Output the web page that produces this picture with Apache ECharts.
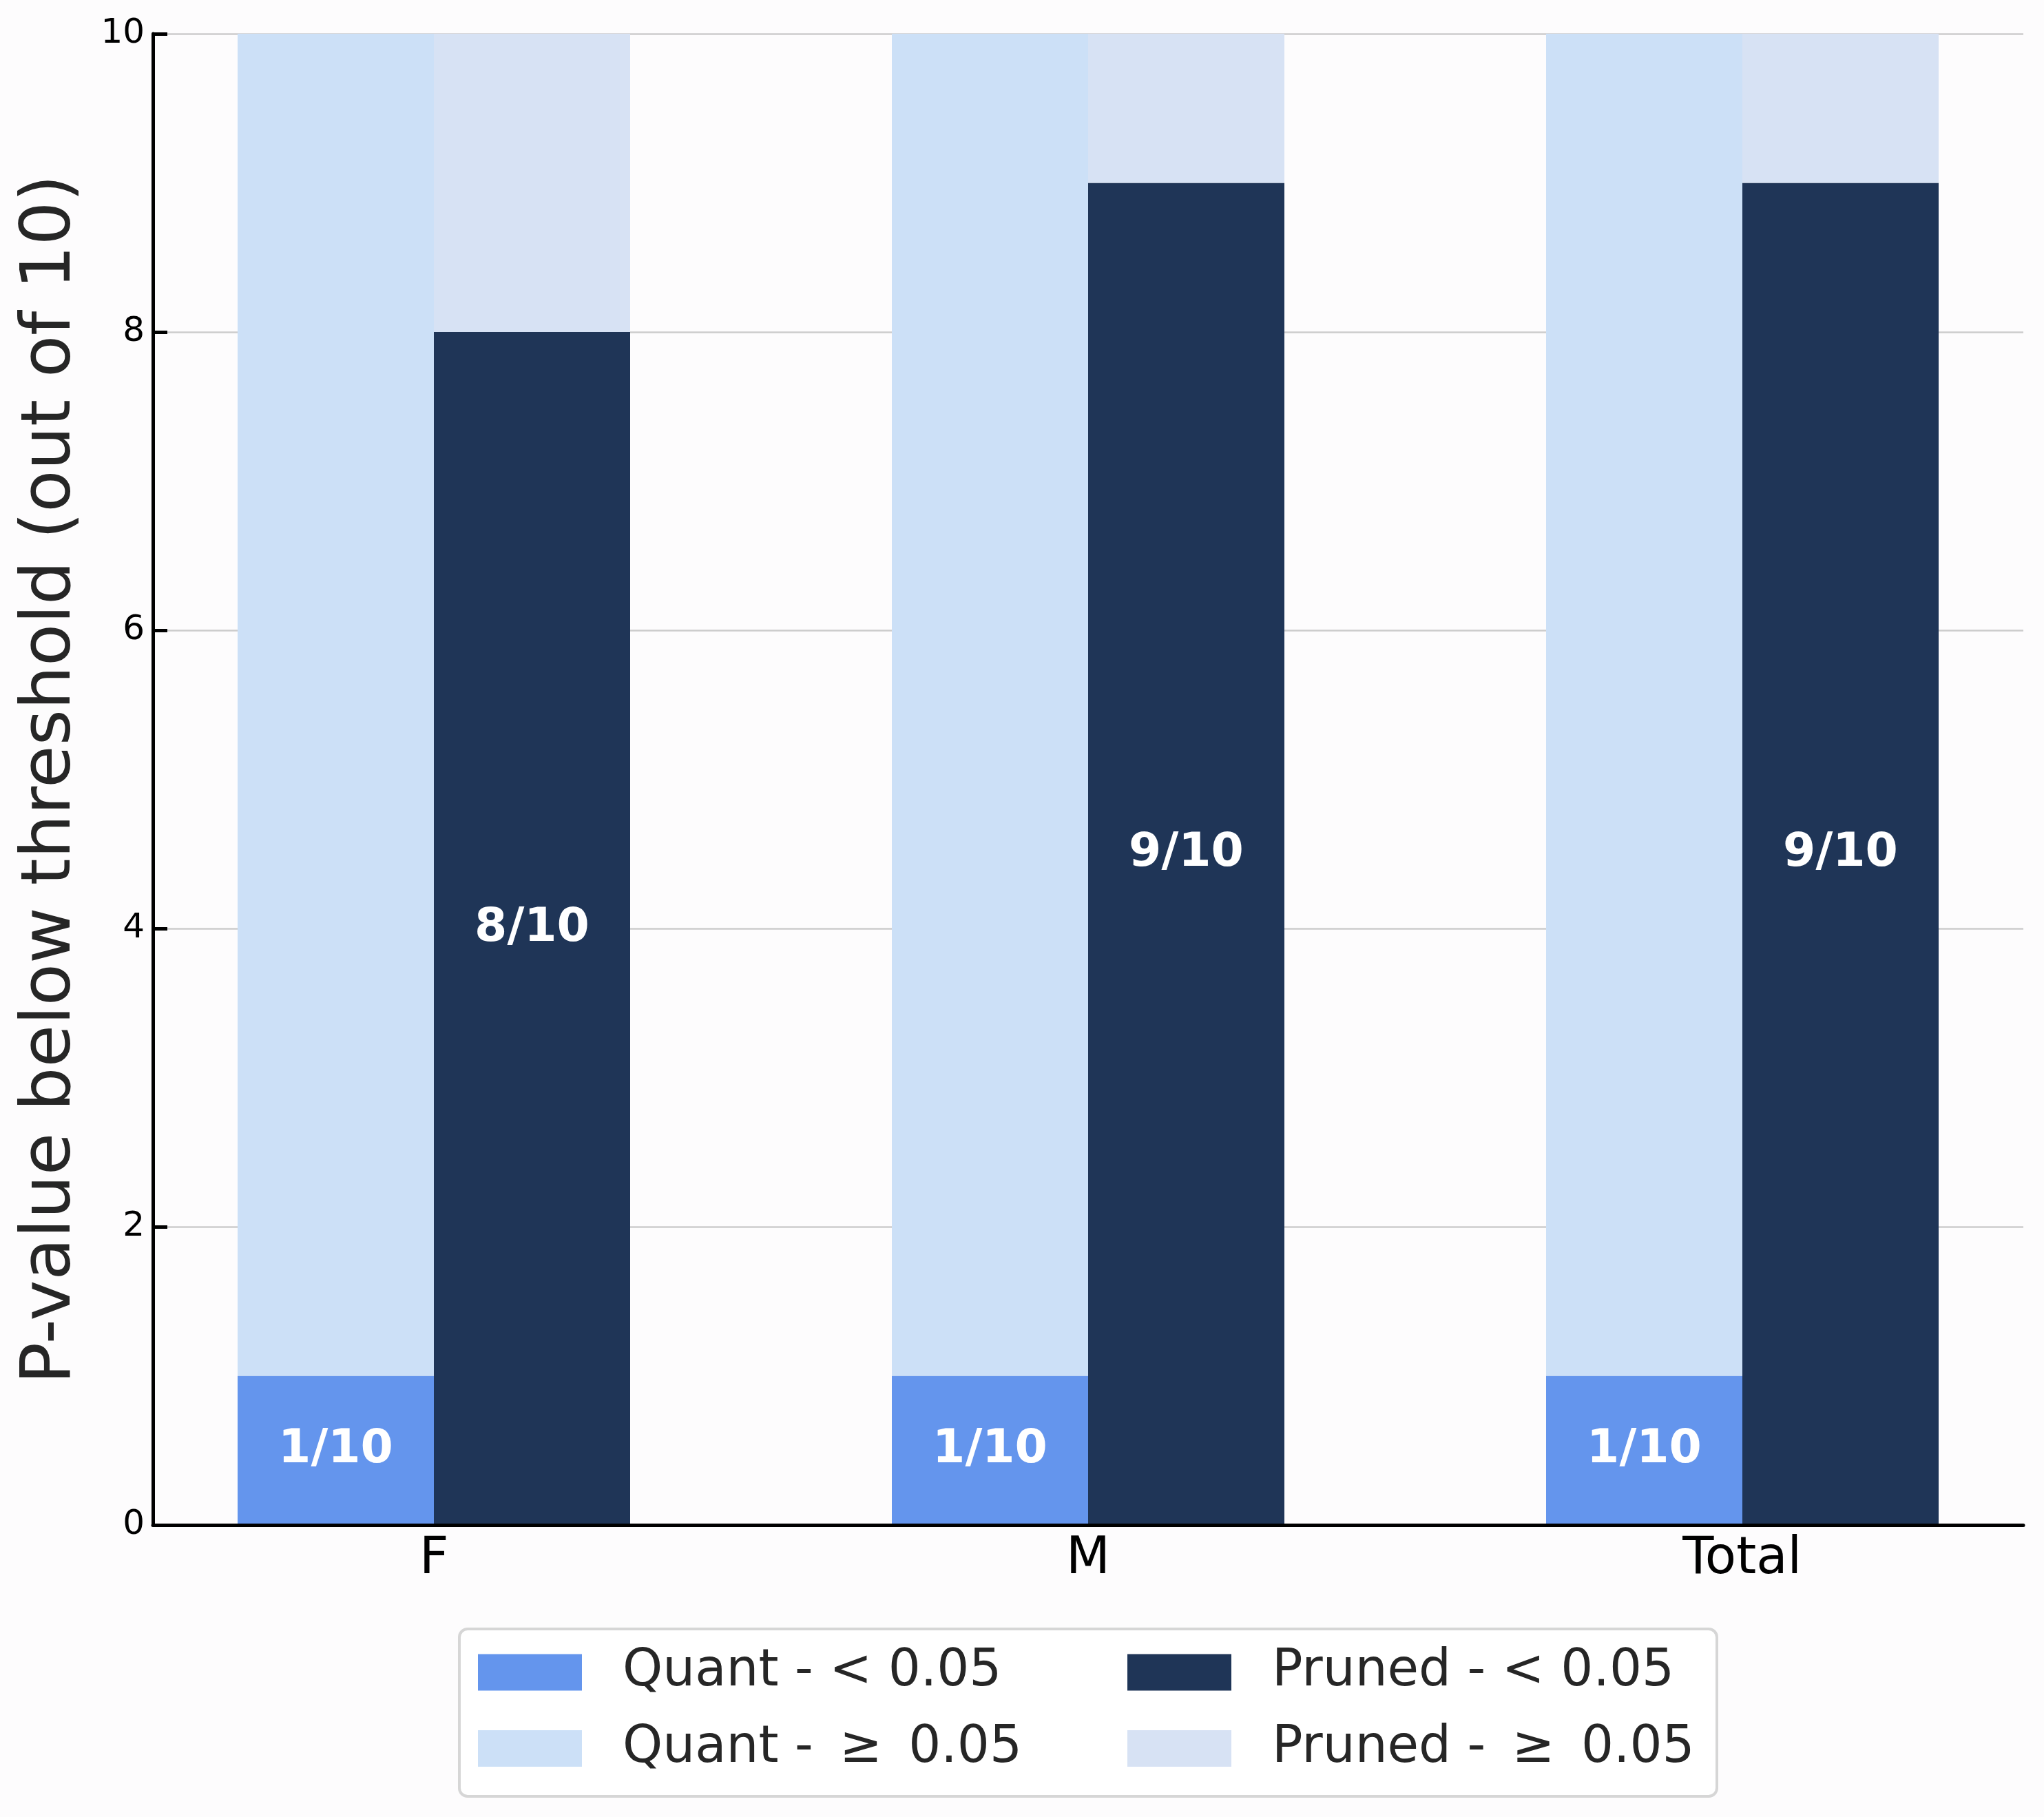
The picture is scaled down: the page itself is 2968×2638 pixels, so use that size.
<!DOCTYPE html>
<html>
<head>
<meta charset="utf-8">
<script src="https://cdn.jsdelivr.net/npm/echarts@6/dist/echarts.min.js"></script>
<style>
  html, body { margin: 0; padding: 0; background: #fdfcfd; }
  #chart { width: 2968px; height: 2638px; }
</style>
</head>
<body>
<div id="chart"></div>
<script>
const categories = ['F', 'M', 'Total'];
const quantBelow = [1, 1, 1];
const quantAbove = [9, 9, 9];
const prunedBelow = [8, 9, 9];
const prunedAbove = [2, 1, 1];
const runsTotal = 10;
const yTickValues = [0, 2, 4, 6, 8, 10];

const seriesNames = {
  qb: 'Quant - < 0.05',
  qa: 'Quant - \u2009\u2265\u2009 0.05',
  pb: 'Pruned - < 0.05',
  pa: 'Pruned - \u2009\u2265\u2009 0.05'
};
const colors = { qb: '#6495ed', qa: '#cce0f7', pb: '#1f3557', pa: '#d7e2f4' };
const FONT = 'DejaVu Sans';

const chart = echarts.init(document.getElementById('chart'), null, { renderer: 'canvas' });

const barLabel = {
  show: true,
  position: 'inside',
  formatter: p => p.value + '/' + runsTotal,
  color: '#ffffff',
  fontFamily: FONT,
  fontWeight: 'bold',
  fontSize: 68
};

const legendCommon = {
  orient: 'vertical',
  top: 2391,
  padding: 0,
  itemGap: 36.5,
  itemWidth: 151,
  itemHeight: 53,
  icon: 'rect',
  selectedMode: false,
  textStyle: { fontFamily: FONT, fontSize: 74, lineHeight: 74, color: '#262626', padding: [0, 0, 0, 54] }
};

const T = 49, B = 424;

chart.setOption({
  backgroundColor: '#fdfcfd',
  animation: false,
  grid: [
    // grid for the bars: category points from the first to the last group centre
    { left: 630, right: 438, top: T, bottom: B, containLabel: false },
    // grid for the visible axes
    { left: 222, right: 30, top: T, bottom: B, containLabel: false }
  ],
  graphic: [{
    type: 'rect', z: 1,
    shape: { x: 667, y: 2365, width: 1826, height: 243, r: 12 },
    style: { fill: 'rgba(255,255,255,0.8)', stroke: '#d6d6d6', lineWidth: 4 }
  }],
  legend: [
    Object.assign({}, legendCommon, { left: 694, data: [seriesNames.qb, seriesNames.qa] }),
    Object.assign({}, legendCommon, { left: 1637, data: [seriesNames.pb, seriesNames.pa] })
  ],
  xAxis: [
    {
      gridIndex: 0, type: 'category', data: categories, boundaryGap: false,
      show: false
    },
    {
      gridIndex: 1, type: 'value', min: -0.43, max: 2.43, z: 5,
      axisLine: { show: true, onZero: false, lineStyle: { color: '#000', width: 5 } },
      axisTick: { show: false },
      splitLine: { show: false },
      axisLabel: {
        customValues: categories.map((c, i) => i),
        formatter: v => categories[Math.round(v)],
        fontFamily: FONT, fontSize: 74, color: '#000', margin: 14
      }
    }
  ],
  yAxis: [
    {
      gridIndex: 0, type: 'value', min: 0, max: 10, show: false,
      splitLine: { show: false }
    },
    {
      gridIndex: 1, type: 'value', min: 0, max: 10, interval: 2, z: 5,
      name: 'P-value below threshold (out of 10)',
      nameLocation: 'middle',
      nameGap: 97,
      nameTextStyle: { fontFamily: FONT, fontSize: 100, color: '#262626' },
      axisLine: { show: true, onZero: false, lineStyle: { color: '#000', width: 5 } },
      axisTick: { show: true, inside: true, length: 21, lineStyle: { color: '#000', width: 5 } },
      axisLabel: {
        customValues: yTickValues,
        fontFamily: FONT, fontSize: 50, color: '#000', margin: 12
      },
      splitLine: { show: false }
    },
    {
      // gridlines only, drawn beneath the bars
      gridIndex: 1, type: 'value', min: 0, max: 10, interval: 2, z: 0,
      axisLine: { show: false },
      axisTick: { show: false },
      axisLabel: { show: false },
      splitLine: { show: true, lineStyle: { color: '#cccccc', width: 2.5 } }
    }
  ],
  series: [
    { name: seriesNames.qb, type: 'bar', xAxisIndex: 0, yAxisIndex: 0, stack: 'quant', barWidth: 285, barGap: '0%', clip: false,
      itemStyle: { color: colors.qb }, label: barLabel, data: quantBelow },
    { name: seriesNames.qa, type: 'bar', xAxisIndex: 0, yAxisIndex: 0, stack: 'quant', barWidth: 285, barGap: '0%', clip: false,
      itemStyle: { color: colors.qa }, data: quantAbove },
    { name: seriesNames.pb, type: 'bar', xAxisIndex: 0, yAxisIndex: 0, stack: 'pruned', barWidth: 285, barGap: '0%', clip: false,
      itemStyle: { color: colors.pb }, label: barLabel, data: prunedBelow },
    { name: seriesNames.pa, type: 'bar', xAxisIndex: 0, yAxisIndex: 0, stack: 'pruned', barWidth: 285, barGap: '0%', clip: false,
      itemStyle: { color: colors.pa }, data: prunedAbove }
  ]
});
</script>
</body>
</html>
